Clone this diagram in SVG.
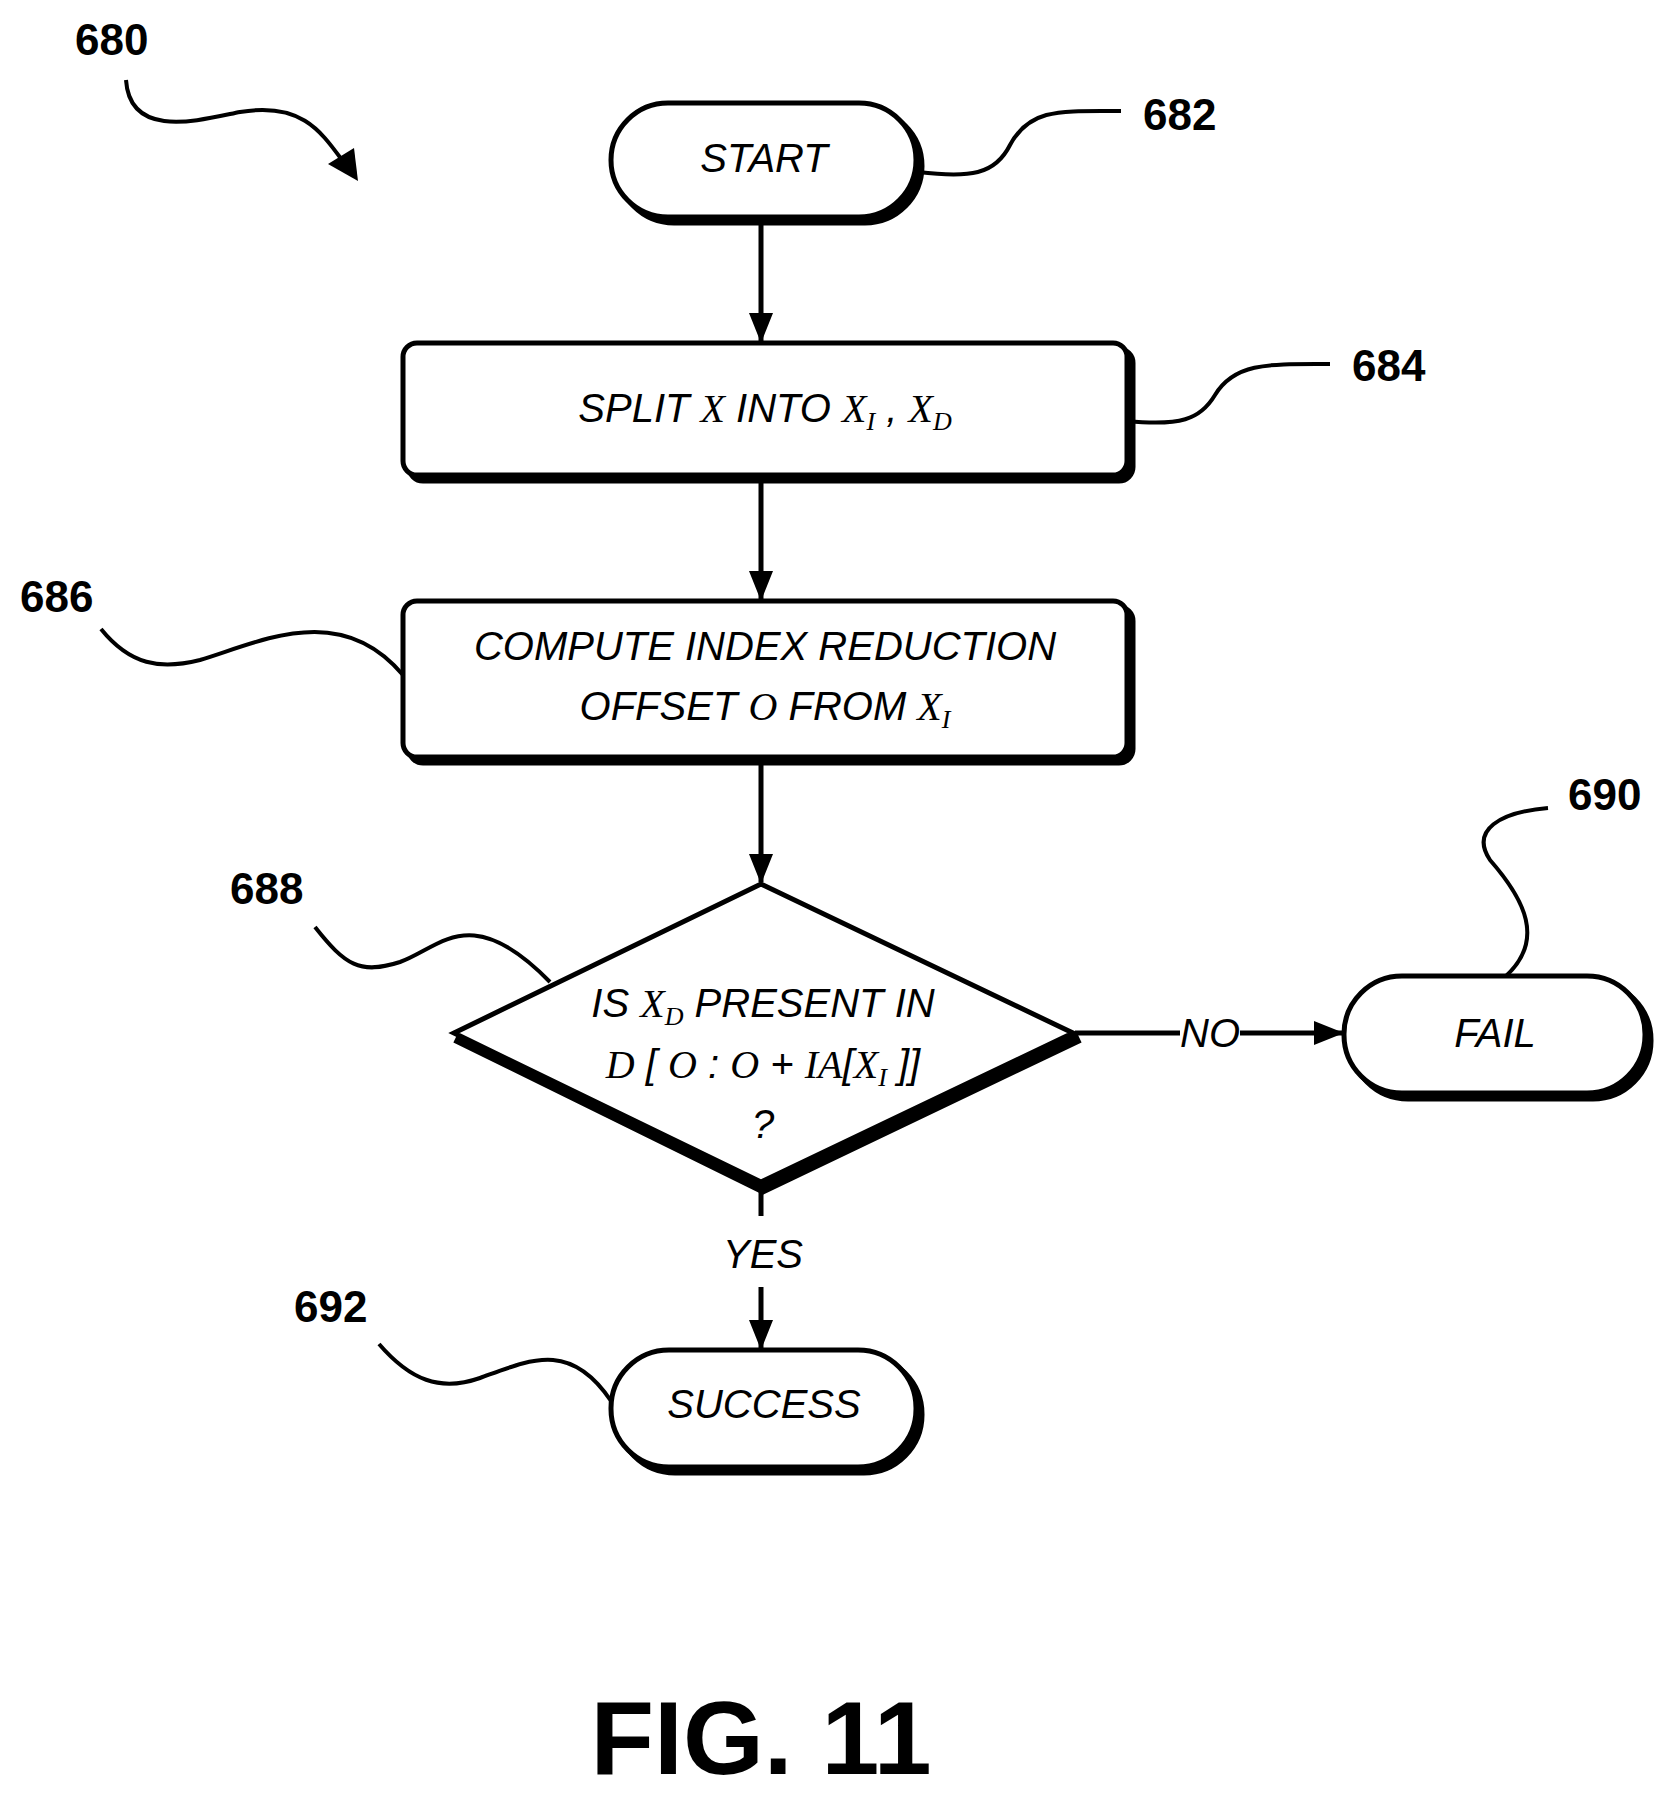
<svg xmlns="http://www.w3.org/2000/svg" width="1678" height="1795" viewBox="0 0 1678 1795">
<style>
.t{font-family:"Liberation Sans",Arial,sans-serif;font-style:italic;font-size:40px;text-anchor:middle;fill:#000}
.v{font-family:"Liberation Serif","Times New Roman",serif;font-style:italic}
.s{font-size:26px}
.n{font-family:"Liberation Sans",Arial,sans-serif;font-weight:bold;font-size:44px;fill:#000}
.sh{fill:#000;stroke:#000;stroke-width:5}
.bx{fill:#fff;stroke:#000;stroke-width:5}
.ld{fill:none;stroke:#000;stroke-width:4}
.ln{stroke:#000;stroke-width:5;fill:none}
</style>
<defs>
<marker id="ah" markerWidth="30" markerHeight="30" refX="28" refY="15" orient="auto" markerUnits="userSpaceOnUse" viewBox="0 0 30 30"><path d="M0,3L30,15L0,27z" fill="#000"/></marker></defs>
<g id="connectors">
<line class="ln" x1="761" y1="219" x2="761" y2="341" marker-end="url(#ah)"/>
<line class="ln" x1="761" y1="478" x2="761" y2="599" marker-end="url(#ah)"/>
<line class="ln" x1="761" y1="760" x2="761" y2="882" marker-end="url(#ah)"/>
<line class="ln" x1="1075" y1="1033" x2="1180" y2="1033"/>
<line class="ln" x1="1240" y1="1033" x2="1342" y2="1033" marker-end="url(#ah)"/>
<text class="t" x="1210" y="1047">NO</text>
<line class="ln" x1="761" y1="1184" x2="761" y2="1216"/>
<line class="ln" x1="761" y1="1287" x2="761" y2="1348" marker-end="url(#ah)"/>
<text class="t" x="763" y="1268">YES</text>
</g>
<g id="n680"><text class="n" x="75" y="55">680</text>
<path class="ld" d="M126,80C130,140 200,120 240,112C300,102 320,130 342,160"/><path d="M328,164L358,181L354,148z" fill="#000"/></g>
<g id="n682"><rect class="sh" x="617" y="109" width="305" height="114" rx="57"/><rect class="bx" x="611" y="103" width="305" height="114" rx="57"/>
<text class="t" x="764" y="172">START</text>
<path class="ld" d="M918,172C970,178 995,175 1010,145C1030,108 1060,111 1121,111"/><text class="n" x="1143" y="130">682</text></g>
<g id="n684"><rect class="sh" x="409" y="349" width="724" height="132" rx="14"/><rect class="bx" x="403" y="343" width="724" height="132" rx="14"/>
<text class="t" x="765" y="422">SPLIT <tspan class="v">X</tspan> INTO <tspan class="v">X</tspan><tspan class="v s" dy="8">I</tspan><tspan dy="-8"> , </tspan><tspan class="v">X</tspan><tspan class="v s" dy="8">D</tspan></text>
<path class="ld" d="M1127,421C1180,426 1200,420 1215,395C1235,362 1270,364 1330,364"/><text class="n" x="1352" y="381">684</text></g>
<g id="n686"><rect class="sh" x="409" y="607" width="724" height="156" rx="14"/><rect class="bx" x="403" y="601" width="724" height="156" rx="14"/>
<text class="t" x="765" y="660">COMPUTE INDEX REDUCTION</text>
<text class="t" x="765" y="720">OFFSET <tspan class="v">O</tspan> FROM <tspan class="v">X</tspan><tspan class="v s" dy="8">I</tspan></text>
<path class="ld" d="M101,629C130,665 160,670 200,660C260,642 340,600 403,675"/><text class="n" x="20" y="612">686</text></g>
<g id="n688"><path d="M456,1037L763,1188L1079,1037" fill="none" stroke="#000" stroke-width="12" stroke-linejoin="miter"/>
<polygon class="bx" points="454,1033 761,884 1073,1033 761,1182"/>
<text class="t" x="763" y="1017">IS <tspan class="v">X</tspan><tspan class="v s" dy="8">D</tspan><tspan dy="-8"> PRESENT IN</tspan></text>
<text class="t" x="763" y="1078"><tspan class="v">D</tspan> [ <tspan class="v">O</tspan> : <tspan class="v">O</tspan> + <tspan class="v">IA</tspan>[<tspan class="v">X</tspan><tspan class="v s" dy="8">I</tspan><tspan dy="-8"> ]]</tspan></text>
<text class="t" x="763" y="1138">?</text>
<path class="ld" d="M315,927C345,965 360,975 400,962C440,948 470,900 550,982"/><text class="n" x="230" y="904">688</text></g>
<g id="n690"><rect class="sh" x="1350" y="982" width="301" height="117" rx="58"/><rect class="bx" x="1344" y="976" width="301" height="117" rx="58"/>
<text class="t" x="1495" y="1047">FAIL</text>
<path class="ld" d="M1506,976C1545,940 1525,900 1490,860C1470,830 1500,812 1548,808"/><text class="n" x="1568" y="810">690</text></g>
<g id="n692"><rect class="sh" x="617" y="1356" width="305" height="117" rx="58"/><rect class="bx" x="611" y="1350" width="305" height="117" rx="58"/>
<text class="t" x="764" y="1418">SUCCESS</text>
<path class="ld" d="M379,1344C410,1380 440,1392 480,1378C530,1360 570,1340 611,1401"/><text class="n" x="294" y="1322">692</text></g>
<text x="761" y="1774" style="font-family:'Liberation Sans',Arial,sans-serif;font-weight:bold;font-size:104px;text-anchor:middle">FIG. 11</text>
</svg>
